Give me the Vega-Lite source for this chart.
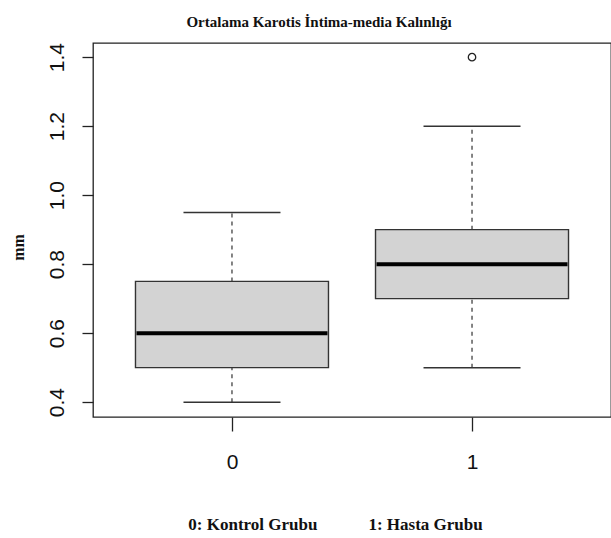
{
  "$schema": "https://vega.github.io/schema/vega-lite/v6.json",
  "width": 518,
  "height": 374,
  "autosize": {"type": "none"},
  "padding": {"left": 93, "top": 43, "right": 0, "bottom": 121},
  "background": "white",
  "config": {"view": {"stroke": "#222222", "strokeWidth": 1.3}},
  "title": {
    "text": "Ortalama Karotis İntima-media Kalınlığı",
    "font": "Liberation Serif",
    "fontSize": 15,
    "fontWeight": "bold",
    "anchor": "middle",
    "frame": "group",
    "dx": -33,
    "offset": 1,
    "baseline": "alphabetic",
    "color": "#111111"
  },
  "datasets": {
    "boxes": [
      {"group": "0", "low": 0.4, "q1": 0.5, "median": 0.6, "q3": 0.75, "high": 0.95},
      {"group": "1", "low": 0.5, "q1": 0.7, "median": 0.8, "q3": 0.9, "high": 1.2}
    ],
    "outliers": [
      {"group": "1", "value": 1.4}
    ]
  },
  "data": {"name": "boxes"},
  "encoding": {
    "x": {
      "field": "group",
      "type": "nominal",
      "scale": {"type": "point", "domain": ["0", "1"], "padding": 0.579},
      "axis": {
        "title": "0: Kontrol Grubu\u00a0\u00a0\u00a0\u00a0\u00a0\u00a0\u00a0\u00a0\u00a0\u00a0\u00a0\u00a01: Hasta Grubu",
        "labelAngle": 0,
        "domain": false,
        "grid": false,
        "tickSize": 14,
        "tickWidth": 1.3,
        "tickColor": "#222222",
        "labelFont": "Liberation Sans",
        "labelFontSize": 21,
        "labelColor": "#111111",
        "labelPadding": 20,
        "labelBaseline": "top",
        "titleFont": "Liberation Serif",
        "titleFontWeight": "bold",
        "titleFontSize": 17,
        "titleColor": "#111111",
        "titleX": 242,
        "titleY": 107,
        "titleAlign": "center",
        "titleBaseline": "middle"
      }
    }
  },
  "layer": [
    {
      "mark": {"type": "rule", "strokeDash": [4, 4], "stroke": "#333333", "strokeWidth": 1.2},
      "encoding": {
        "y": {
          "field": "q3",
          "type": "quantitative",
          "scale": {"domain": [0.357, 1.441], "nice": false, "zero": false},
          "axis": {
            "title": "mm",
            "values": [0.4, 0.6, 0.8, 1.0, 1.2, 1.4],
            "format": ".1f",
            "labelAngle": -90,
            "labelAlign": "center",
            "labelBaseline": "alphabetic",
            "labelPadding": 19,
            "labelFlush": false,
            "labelOverlap": false,
            "tickSize": 11,
            "tickWidth": 1.3,
            "tickColor": "#222222",
            "domain": false,
            "grid": false,
            "labelFont": "Liberation Sans",
            "labelFontSize": 21,
            "labelColor": "#111111",
            "titleFont": "Liberation Serif",
            "titleFontWeight": "bold",
            "titleFontSize": 16,
            "titleColor": "#111111",
            "titleAngle": -90,
            "titleX": -75,
            "titleY": 204,
            "titleAlign": "center",
            "titleBaseline": "middle"
          }
        },
        "y2": {"field": "high"}
      }
    },
    {
      "mark": {"type": "rule", "strokeDash": [4, 4], "stroke": "#333333", "strokeWidth": 1.2},
      "encoding": {
        "y": {"field": "low", "type": "quantitative"},
        "y2": {"field": "q1"}
      }
    },
    {
      "mark": {"type": "bar", "width": 193, "fill": "#d3d3d3", "stroke": "#333333", "strokeWidth": 1.4},
      "encoding": {
        "y": {"field": "q1", "type": "quantitative"},
        "y2": {"field": "q3"}
      }
    },
    {
      "mark": {"type": "tick", "size": 191, "thickness": 4, "color": "#000000", "opacity": 1},
      "encoding": {
        "y": {"field": "median", "type": "quantitative"}
      }
    },
    {
      "mark": {"type": "tick", "size": 97, "thickness": 1.5, "color": "#333333", "opacity": 1},
      "encoding": {
        "y": {"field": "high", "type": "quantitative"}
      }
    },
    {
      "mark": {"type": "tick", "size": 97, "thickness": 1.5, "color": "#333333", "opacity": 1},
      "encoding": {
        "y": {"field": "low", "type": "quantitative"}
      }
    },
    {
      "data": {"name": "outliers"},
      "mark": {"type": "point", "shape": "circle", "filled": false, "size": 55, "stroke": "#222222", "strokeWidth": 1.3, "opacity": 1},
      "encoding": {
        "y": {"field": "value", "type": "quantitative"}
      }
    }
  ]
}
